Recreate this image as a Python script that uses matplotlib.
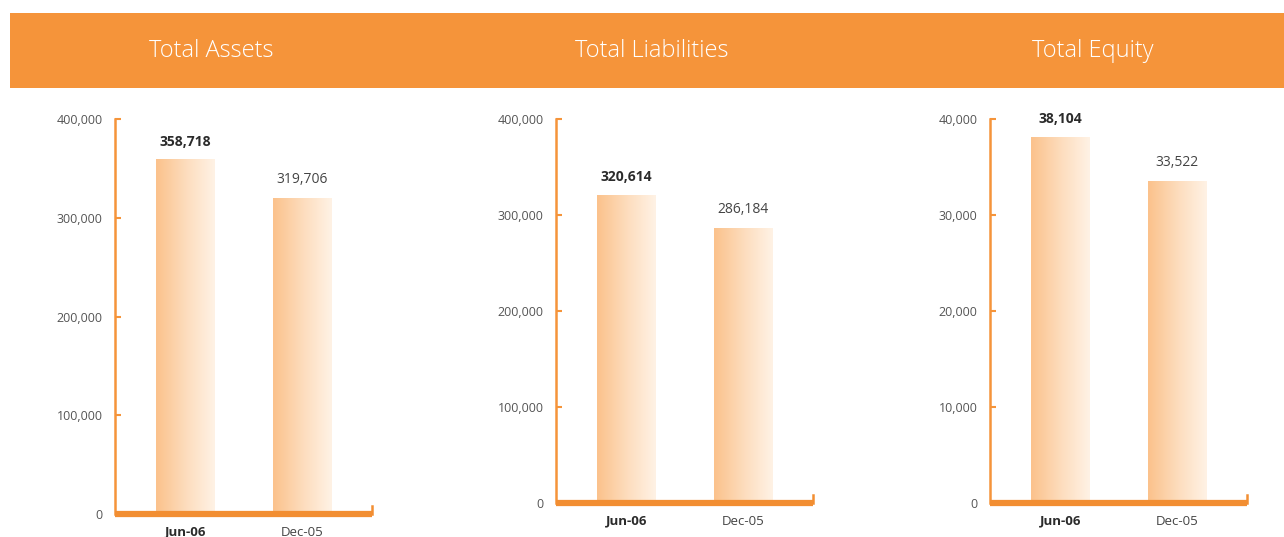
import numpy as np
import matplotlib.pyplot as plt
from matplotlib.patches import Rectangle
from matplotlib.colors import LinearSegmentedColormap
from matplotlib.ticker import FuncFormatter

plt.rcParams['font.family'] = ['Open Sans', 'DejaVu Sans']

# data
titles = ["Total Assets", "Total Liabilities", "Total Equity"]
periods = ["Jun-06", "Dec-05"]
assets = [358718, 319706]
liabilities = [320614, 286184]
equity = [38104, 33522]
series = [assets, liabilities, equity]
y_max = [400000, 400000, 40000]
y_step = [100000, 100000, 10000]

ORANGE = "#F5943A"
ORANGE_DK = "#F28E32"
grad = LinearSegmentedColormap.from_list("bar", ["#FBC28C", "#FDDCBC", "#FFF2E5"])

W, H = 1284, 537
fig = plt.figure(figsize=(W / 100, H / 100), dpi=100)

# header band
fig.patches.append(Rectangle((10 / W, 1 - 88 / H), (W - 10) / W, 75 / H,
                             transform=fig.transFigure, facecolor=ORANGE,
                             edgecolor="none", zorder=0))
title_x = [211, 652, 1093]

# axes boxes in pixels: left, zero-line y, top y
boxes = [(115, 514, 119), (556, 503, 119), (990, 503, 119)]
ax_w = 257

for i, (vals, (left, y0, ytop)) in enumerate(zip(series, boxes)):
    fig.text(title_x[i] / W, 1 - 51 / H, titles[i], color="white", fontsize=17,
             fontweight="light", ha="center", va="center")

    ax = fig.add_axes([left / W, 1 - y0 / H, ax_w / W, (y0 - ytop) / H])
    x = np.arange(len(periods))
    bw = 0.5
    for xi, v in zip(x, vals):
        ax.imshow(np.linspace(0, 1, 64).reshape(1, -1), cmap=grad, aspect="auto",
                  extent=(xi - bw / 2, xi + bw / 2, 0, v), zorder=1)
        bold = xi == 0
        ax.annotate(f"{v:,}", (xi, v), xytext=(0, 8), textcoords="offset points",
                    ha="center", va="bottom", fontsize=10,
                    fontweight="bold" if bold else "normal",
                    color="#2b2b2b" if bold else "#444444")

    ax.set_xlim(-0.603, 1.603)
    ax.set_ylim(0, y_max[i])
    ax.set_yticks(np.arange(0, y_max[i] + 1, y_step[i]))
    ax.yaxis.set_major_formatter(FuncFormatter(lambda v, p: f"{int(v):,}"))
    ax.tick_params(axis="y", direction="in", length=4.5, width=1.5, colors=ORANGE,
                   labelcolor="#555555", labelsize=9, pad=9)
    ax.set_xticks(x)
    ax.set_xticklabels(periods, fontsize=9.5, color="#444444")
    ax.get_xticklabels()[0].set_fontweight("bold")
    ax.get_xticklabels()[0].set_color("#2b2b2b")
    ax.tick_params(axis="x", length=0, pad=8.5)

    for s in ["top", "right"]:
        ax.spines[s].set_visible(False)
    ax.spines["left"].set_color(ORANGE)
    ax.spines["left"].set_linewidth(1.8)
    ax.spines["bottom"].set_color(ORANGE_DK)
    ax.spines["bottom"].set_linewidth(4.5)
    ax.spines["bottom"].set_capstyle("butt")
    ax.spines["bottom"].set_zorder(3)
    # small end mark on the right of the base line
    ax.plot([1, 1], [0, 0.02], transform=ax.transAxes, color=ORANGE_DK,
            lw=1.8, clip_on=False, zorder=3)
    ax.set_facecolor("none")

fig.savefig("out.png", dpi=100)
